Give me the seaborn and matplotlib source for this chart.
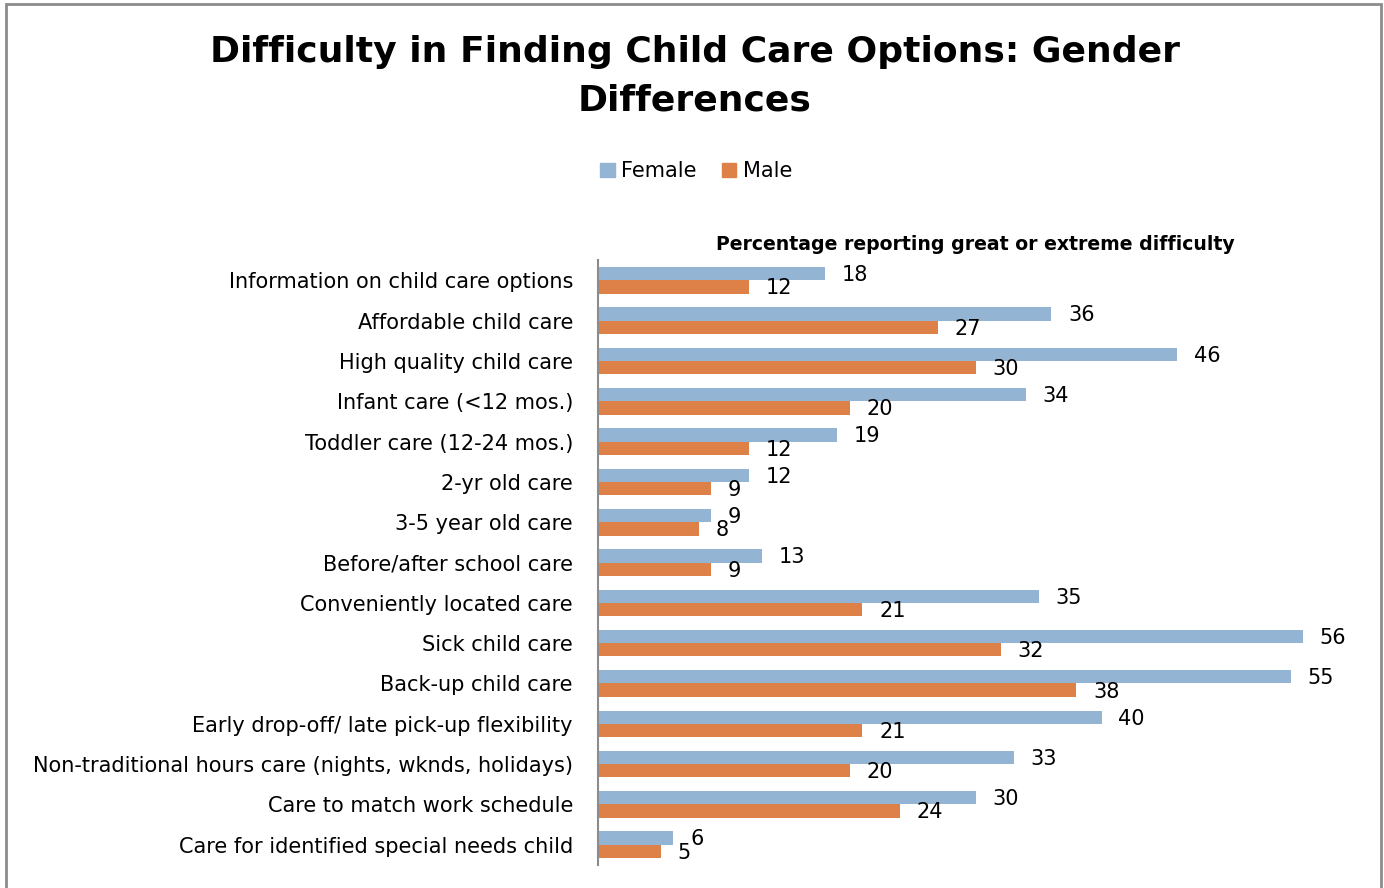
import matplotlib
matplotlib.use('Agg')
import matplotlib.pyplot as plt
import seaborn as sns
import pandas as pd
from matplotlib.patches import Rectangle

categories = [
    'Information on child care options',
    'Affordable child care',
    'High quality child care',
    'Infant care (<12 mos.)',
    'Toddler care (12-24 mos.)',
    '2-yr old care',
    '3-5 year old care',
    'Before/after school care',
    'Conveniently located care',
    'Sick child care',
    'Back-up child care',
    'Early drop-off/ late pick-up flexibility',
    'Non-traditional hours care (nights, wknds, holidays)',
    'Care to match work schedule',
    'Care for identified special needs child',
]
female = [18, 36, 46, 34, 19, 12, 9, 13, 35, 56, 55, 40, 33, 30, 6]
male = [12, 27, 30, 20, 12, 9, 8, 9, 21, 32, 38, 21, 20, 24, 5]
genders = ['Female', 'Male']
colors = ['#93B4D2', '#DE8149']

df = pd.DataFrame({
    'category': categories * 2,
    'value': female + male,
    'gender': ['Female'] * len(categories) + ['Male'] * len(categories),
})

sns.set_style('white')
plt.rcParams['font.family'] = ['DejaVu Sans']
plt.rcParams['text.color'] = 'black'

fig = plt.figure(figsize=(13.84, 8.88), dpi=100)
ax = fig.add_axes([0.432, 0.026, 0.546, 0.681])

sns.barplot(data=df, y='category', x='value', hue='gender', hue_order=genders,
            palette=colors, orient='h', width=0.66, ax=ax, legend=False,
            saturation=1, edgecolor='none')

# value labels just past the end of each bar
for cont in ax.containers:
    for bar in cont:
        w = bar.get_width()
        yc = bar.get_y() + bar.get_height() / 2
        ax.annotate(f'{w:.0f}', (w, yc), xytext=(12, -1), textcoords='offset points',
                    ha='left', va='center', fontsize=15, color='black')

ax.set_xlim(0, 60)
ax.set_ylim(len(categories) - 0.5, -0.5)
ax.set_xticks([])
ax.set_xlabel('')
ax.set_ylabel('')
ax.tick_params(axis='y', length=0, labelsize=15, pad=18, colors='black')
for s in ['top', 'right', 'bottom']:
    ax.spines[s].set_visible(False)
ax.spines['left'].set_color('#8C8C8C')
ax.spines['left'].set_linewidth(1.5)
ax.set_title('Percentage reporting great or extreme difficulty', fontsize=13.6,
             fontweight='bold', pad=7, color='black')

fig.text(0.502, 0.914, 'Difficulty in Finding Child Care Options: Gender\nDifferences',
         ha='center', va='center', fontsize=26, fontweight='bold', linespacing=1.55,
         color='black')

handles = [Rectangle((0, 0), 1, 1, color=c) for c in colors]
leg = fig.legend(handles, genders, loc='center', bbox_to_anchor=(0.503, 0.807), ncol=2,
                 frameon=False, fontsize=15, handlelength=0.7, handleheight=0.7,
                 handletextpad=0.3, columnspacing=1.2)
for t in leg.get_texts():
    t.set_color('black')

fig.patches.append(Rectangle((0.004, -0.01), 0.994, 1.005, transform=fig.transFigure,
                             fill=False, edgecolor='#8C8C8C', linewidth=2))

fig.savefig('out.png', dpi=100)
